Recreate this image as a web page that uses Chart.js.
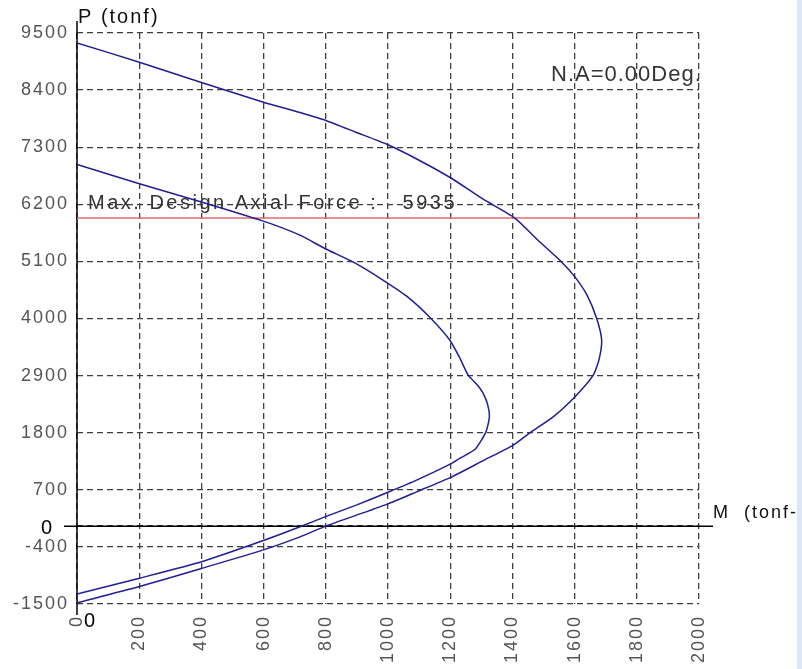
<!DOCTYPE html>
<html>
<head>
<meta charset="utf-8">
<title>P-M Interaction Diagram</title>
<style>
  html, body { margin: 0; padding: 0; background: #fff; }
  #wrap { position: relative; width: 802px; height: 669px; overflow: hidden; background: #fff; }
  #edge { position: absolute; right: 0; top: 0; width: 5px; height: 669px; background: #dce8f5; }
</style>
<script src="https://cdn.jsdelivr.net/npm/chart.js@4/dist/chart.umd.min.js"></script>
</head>
<body>
<div id="wrap">
  <canvas id="chart" width="802" height="669"></canvas>
  <div id="edge"></div>
</div>
<script>
// Axis ticks
const momentTicks = [0, 200, 400, 600, 800, 1000, 1200, 1400, 1600, 1800, 2000];
const axialTicks = [-1500, -400, 0, 700, 1800, 2900, 4000, 5100, 6200, 7300, 8400, 9500];

// Nominal strength curve (M in tonf-m, P in tonf)
const nominalM = [0, 198, 400, 597, 717, 800, 897, 998, 1100, 1205, 1306, 1408, 1483, 1558, 1601, 1640, 1671, 1687, 1678, 1660, 1606, 1531, 1456, 1403, 1309, 1205, 1092, 998, 800, 717, 597, 400, 198, 0];
const nominalP = [9310, 8943, 8545, 8172, 7967, 7815, 7588, 7351, 7049, 6697, 6298, 5935, 5502, 5090, 4802, 4450, 4000, 3582, 3197, 2908, 2523, 2105, 1797, 1560, 1271, 950, 661, 424, 0, -206, -462, -815, -1169, -1477];

// Design strength curve
const designM = [0, 198, 400, 597, 717, 797, 890, 976, 1060, 1135, 1199, 1230, 1258, 1290, 1306, 1320, 1326, 1315, 1280, 1230, 1205, 1092, 998, 900, 797, 717, 597, 400, 198, 0];
const designP = [6966, 6600, 6246, 5880, 5605, 5348, 5080, 4770, 4430, 4019, 3582, 3250, 2908, 2700, 2556, 2350, 2105, 1816, 1480, 1304, 1208, 886, 649, 410, 179, -13, -283, -687, -1008, -1310];

// Max design axial force and neutral axis angle
const maxDesignAxial = 5935;
const neutralAxisDeg = 0.00;

const FONT = 'Liberation Sans, Arial, sans-serif';
const GRID = '#3f3f3f';
const toPoints = (xs, ys) => xs.map((x, i) => ({ x: x, y: ys[i] }));

const labelsPlugin = {
  id: 'pmLabels',
  beforeDraw(chart) {
    chart.ctx.letterSpacing = '2px';
  },
  beforeDatasetsDraw(chart) {
    const { ctx, chartArea: a, scales: { x, y } } = chart;
    const x0 = x.getPixelForValue(0);
    const y0 = y.getPixelForValue(0);
    ctx.save();
    // solid axes through the origin
    ctx.strokeStyle = '#000';
    ctx.lineWidth = 1.5;
    ctx.setLineDash([]);
    ctx.beginPath();
    ctx.moveTo(x0, a.top - 12);
    ctx.lineTo(x0, a.bottom + 11);
    ctx.moveTo(a.left - 13, y0);
    ctx.lineTo(a.right + 14, y0);
    ctx.stroke();

    // design axial force label
    ctx.letterSpacing = '2.5px';
    ctx.font = '20px ' + FONT;
    ctx.fillStyle = '#333';
    ctx.textAlign = 'left';
    ctx.textBaseline = 'middle';
    ctx.fillText('Max. Design Axial Force :   ' + maxDesignAxial, a.left + 11, y.getPixelForValue(maxDesignAxial) - 15);
    ctx.restore();
  },
  afterDraw(chart) {
    const { ctx, chartArea: a, scales: { x, y } } = chart;
    const x0 = x.getPixelForValue(0);
    const y0 = y.getPixelForValue(0);
    ctx.save();
    ctx.textBaseline = 'middle';
    ctx.textAlign = 'left';
    ctx.fillStyle = '#111';

    ctx.letterSpacing = '2px';
    ctx.font = '20px ' + FONT;
    ctx.fillText('P (tonf)', x0 + 1, a.top - 16);

    ctx.font = '18px ' + FONT;
    ctx.fillText('M  (tonf-m)', a.right + 14, y0 - 13);

    ctx.letterSpacing = '1px';
    ctx.font = '22px ' + FONT;
    ctx.fillStyle = '#333';
    ctx.fillText('N.A=' + neutralAxisDeg.toFixed(2) + 'Deg.', 551, 75);

    // origin markers
    ctx.fillStyle = '#000';
    ctx.font = '20px ' + FONT;
    ctx.fillText('0', x0 + 7, a.bottom + 17);
    ctx.textAlign = 'right';
    ctx.fillText('0', x0 - 24, y0 + 2);
    ctx.restore();
  }
};

new Chart(document.getElementById('chart'), {
  type: 'scatter',
  data: {
    datasets: [
      {
        data: toPoints(nominalM, nominalP),
        showLine: true, borderColor: '#1f1f94', borderWidth: 1.5,
        pointRadius: 0, tension: 0.2, fill: false, order: 1
      },
      {
        data: toPoints(designM, designP),
        showLine: true, borderColor: '#1f1f94', borderWidth: 1.5,
        pointRadius: 0, tension: 0.2, fill: false, order: 1
      },
      {
        data: [{ x: momentTicks[0], y: maxDesignAxial }, { x: momentTicks[momentTicks.length - 1], y: maxDesignAxial }],
        showLine: true, borderColor: '#e36b6b', borderWidth: 1.5,
        pointRadius: 0, fill: false, order: 2
      }
    ]
  },
  options: {
    responsive: false,
    animation: false,
    events: [],
    layout: { padding: { top: 33, right: 103, left: 0, bottom: 0 } },
    plugins: { legend: { display: false }, tooltip: { enabled: false } },
    scales: {
      x: {
        type: 'linear',
        min: momentTicks[0],
        max: momentTicks[momentTicks.length - 1],
        afterBuildTicks: s => { s.ticks = momentTicks.map(v => ({ value: v })); },
        afterFit: s => { s.height = 65; },
        grid: { color: GRID, lineWidth: 1.3, drawTicks: false },
        border: { display: false, dash: [6, 4] },
        ticks: {
          autoSkip: false, minRotation: 90, maxRotation: 90, padding: 11,
          color: '#555', font: { family: FONT, size: 18 },
          callback: v => String(v)
        }
      },
      y: {
        type: 'linear',
        min: axialTicks[0],
        max: axialTicks[axialTicks.length - 1],
        afterBuildTicks: s => { s.ticks = axialTicks.map(v => ({ value: v })); },
        afterFit: s => { s.width = 77; },
        grid: { color: GRID, lineWidth: 1.3, drawTicks: false },
        border: { display: false, dash: [6, 4] },
        ticks: {
          autoSkip: false, padding: 8,
          color: '#555', font: { family: FONT, size: 18 },
          callback: v => (v === 0 ? '' : String(v))
        }
      }
    }
  },
  plugins: [labelsPlugin]
});
</script>
</body>
</html>
